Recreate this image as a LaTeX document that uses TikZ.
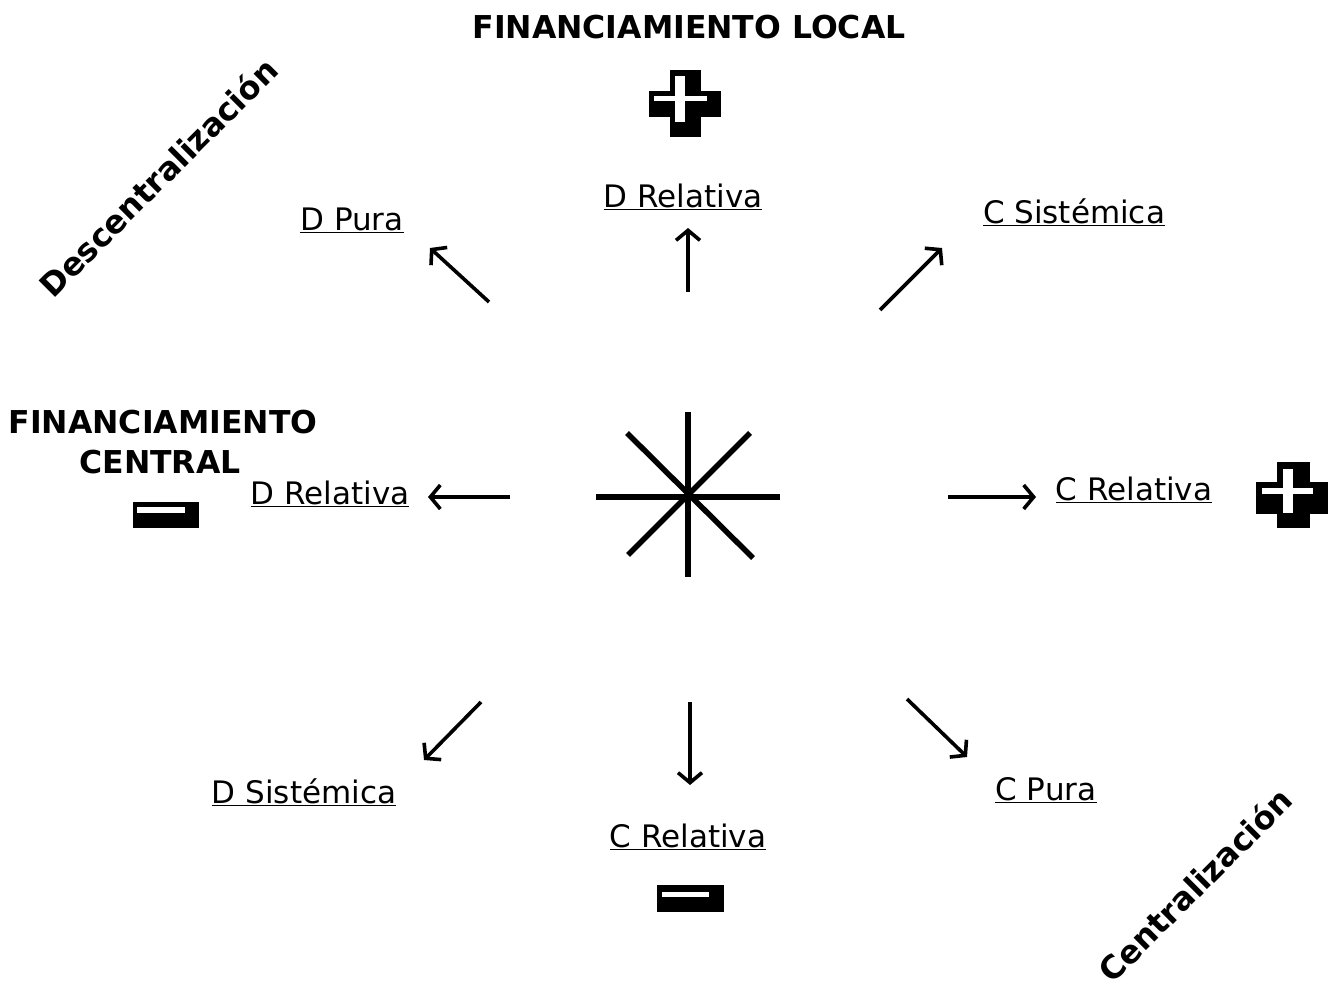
\documentclass[tikz,border=0pt]{standalone}
\usepackage{fontspec}
\setmainfont{DejaVu Sans}
\usetikzlibrary{arrows.meta}
\tikzset{
  lbl/.style={font=\fontsize{31}{34}\selectfont, inner sep=0pt},
  head/.style={font=\fontsize{31.5}{36}\selectfont\bfseries, inner sep=0pt},
  diag/.style={font=\fontsize{32}{36}\selectfont\bfseries, inner sep=0pt, rotate=45},
  arr/.style={line width=3.6pt, -{Straight Barb[length=10pt,width=24pt,line width=3.6pt]}},
  ray/.style={line width=5.5pt},
  blk/.style={fill=black, draw=none},
  wht/.style={fill=white, draw=none}
}
\begin{document}
\begin{tikzpicture}[x=1pt,y=-1pt]
\useasboundingbox (0,0) rectangle (1333,987);
% headings
\node[head] (fl) at (689,27) {FINANCIAMIENTO LOCAL};
\node[head] (fc1) at (163,422) {FINANCIAMIENTO};
\node[head] (fc2) at (160,462) {CENTRAL};
\node[diag] (desc) at (158,177) {Descentralización};
\node[diag] (cent) at (1195,885) {Centralización};
% plus top
\fill[blk] (670,70) rectangle (701,137);
\fill[blk] (649,91) rectangle (721,117);
\fill[wht] (675,76) rectangle (685,122);
\fill[wht] (654,96) rectangle (707,101);
% plus right
\fill[blk] (1277,462) rectangle (1310,528);
\fill[blk] (1256,482) rectangle (1328,514);
\fill[wht] (1283,469) rectangle (1293,513);
\fill[wht] (1262,488) rectangle (1313,494);
% minus left
\fill[blk] (133,502) rectangle (199,528);
\fill[wht] (137,507) rectangle (185,513);
% minus bottom
\fill[blk] (657,885) rectangle (724,912);
\fill[wht] (662,892) rectangle (709,897);
% star
\coordinate (c) at (688,497);
\draw[ray] (688,412) -- (688,577);
\draw[ray] (596,497) -- (780,497);
\draw[ray] (627,433) -- (753,558);
\draw[ray] (750,433) -- (628,555);
% labels
\node[lbl] (dr1) at (683,197) {\underline{D Relativa}};
\node[lbl] (dp) at (352,220) {\underline{D Pura}};
\node[lbl] (cs1) at (1074,212) {\underline{C Sistémica}};
\node[lbl] (dr2) at (330,494) {\underline{D Relativa}};
\node[lbl] (cr1) at (1134,490) {\underline{C Relativa}};
\node[lbl] (ds) at (304,792) {\underline{D Sistémica}};
\node[lbl] (cr2) at (688,837) {\underline{C Relativa}};
\node[lbl] (cp) at (1046,790) {\underline{C Pura}};
% arrows
\coordinate (u0) at (688,292); \coordinate (u1) at (688,228);
\coordinate (ul0) at (489,302); \coordinate (ul1) at (430,248);
\coordinate (ur0) at (880,310); \coordinate (ur1) at (942,248);
\coordinate (l0) at (510,497); \coordinate (l1) at (428,497);
\coordinate (r0) at (948,497); \coordinate (r1) at (1036,497);
\coordinate (dl0) at (481,702); \coordinate (dl1) at (424,760);
\coordinate (d0) at (690,702); \coordinate (d1) at (690,785);
\coordinate (dr0) at (907,699); \coordinate (dr1c) at (967,757);
\draw[arr] (u0) -- (u1);
\draw[arr] (ul0) -- (ul1);
\draw[arr] (ur0) -- (ur1);
\draw[arr] (l0) -- (l1);
\draw[arr] (r0) -- (r1);
\draw[arr] (dl0) -- (dl1);
\draw[arr] (d0) -- (d1);
\draw[arr] (dr0) -- (dr1c);
\end{tikzpicture}
\end{document}
